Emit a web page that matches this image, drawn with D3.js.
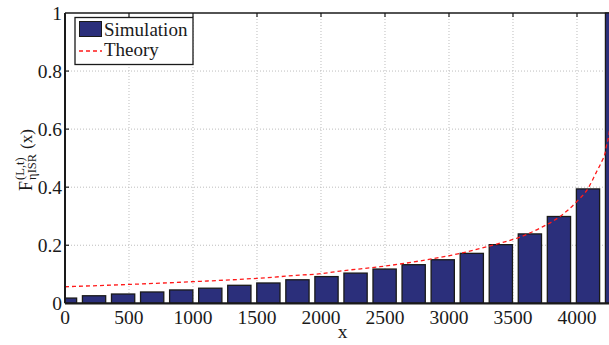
<!DOCTYPE html>
<html>
<head>
<meta charset="utf-8">
<script src="https://cdn.jsdelivr.net/npm/d3@7"></script>
<style>
  html, body { margin: 0; padding: 0; background: #fff; }
  svg { display: block; }
  text { font-family: "Liberation Serif", "DejaVu Serif", serif; fill: #1a1a1a; }
</style>
</head>
<body>
<div id="chart"></div>
<script>
// Bar positions (x) and simulated CDF heights
const barX = [0, 227, 454, 681, 908, 1135, 1362, 1589, 1816, 2043,
              2270, 2497, 2724, 2951, 3178, 3405, 3632, 3859, 4086, 4313];
const simulation = [0.018, 0.026, 0.032, 0.039, 0.046, 0.052, 0.062, 0.070, 0.081, 0.092,
                    0.104, 0.118, 0.133, 0.150, 0.172, 0.202, 0.239, 0.299, 0.394, 1.0];

// Theoretical CDF sampled along x
const theoryX = [0, 500, 1000, 1500, 1836, 2000, 2148, 2461, 2773, 3086,
                 3398, 3555, 3711, 3867, 3997, 4088, 4154, 4193, 4219, 4232, 4245, 4270];
const theoryY = [0.057, 0.065, 0.0745, 0.086, 0.097, 0.102, 0.111, 0.126, 0.146, 0.172,
                 0.207, 0.228, 0.259, 0.299, 0.350, 0.397, 0.454, 0.488, 0.517, 0.546, 0.569, 0.66];

const xTicks = [0, 500, 1000, 1500, 2000, 2500, 3000, 3500, 4000];
const yTicks = [0, 0.2, 0.4, 0.6, 0.8, 1];
const yTickLabels = ["0", "0.2", "0.4", "0.6", "0.8", "1"];
const legendLabels = ["Simulation", "Theory"];

const W = 609, H = 345;
const pLeft = 65, pTop = 13, pBottom = 303.3, pRight = 620;
const barColor = "#2b2f7b";

const svg = d3.select("#chart").append("svg").attr("width", W).attr("height", H);

const x = d3.scaleLinear().domain([0, 4336]).range([pLeft, pRight]);
const y = d3.scaleLinear().domain([0, 1]).range([pBottom, pTop]);

svg.append("defs").append("clipPath").attr("id", "plotClip")
  .append("rect").attr("x", pLeft).attr("y", pTop - 1)
  .attr("width", pRight - pLeft).attr("height", pBottom - pTop + 1);

// dotted grid
const grid = svg.append("g");
grid.selectAll("line.gx").data(xTicks.slice(1)).join("line")
  .attr("x1", d => x(d)).attr("x2", d => x(d)).attr("y1", pTop).attr("y2", pBottom)
  .attr("stroke", "#bdbdbd").attr("stroke-width", 1).attr("stroke-dasharray", "1,2");
grid.selectAll("line.gy").data(yTicks.slice(1, -1)).join("line")
  .attr("y1", d => y(d)).attr("y2", d => y(d)).attr("x1", pLeft).attr("x2", pRight)
  .attr("stroke", "#bdbdbd").attr("stroke-width", 1).attr("stroke-dasharray", "1,2");

// top border with inward ticks
svg.append("line").attr("x1", pLeft).attr("x2", pRight).attr("y1", pTop).attr("y2", pTop)
  .attr("stroke", "#1a1a1a").attr("stroke-width", 1.5);
svg.append("g").selectAll("line").data(xTicks.slice(1)).join("line")
  .attr("x1", d => x(d)).attr("x2", d => x(d)).attr("y1", pTop).attr("y2", pTop + 4)
  .attr("stroke", "#1a1a1a").attr("stroke-width", 1.2);

// bars
const barW = (x(227) - x(0)) * 0.8;
const plot = svg.append("g").attr("clip-path", "url(#plotClip)");
plot.selectAll("rect.bar").data(simulation).join("rect")
  .attr("class", "bar")
  .attr("x", (d, i) => x(barX[i]) - barW / 2)
  .attr("y", d => y(d))
  .attr("width", barW)
  .attr("height", d => y(0) - y(d))
  .attr("fill", barColor)
  .attr("stroke", "#1a1a1a")
  .attr("stroke-width", 1.3);

// theory curve
const line = d3.line().x(d => x(d[0])).y(d => y(d[1])).curve(d3.curveMonotoneX);
plot.append("path")
  .datum(theoryX.map((v, i) => [v, theoryY[i]]))
  .attr("d", line)
  .attr("fill", "none")
  .attr("stroke", "#ff1a1a")
  .attr("stroke-width", 1.3)
  .attr("stroke-dasharray", "4,3");

// left and bottom axes
svg.append("line").attr("x1", pLeft).attr("x2", pLeft).attr("y1", pTop).attr("y2", pBottom)
  .attr("stroke", "#1a1a1a").attr("stroke-width", 2);
svg.append("line").attr("x1", pLeft).attr("x2", pRight).attr("y1", pBottom).attr("y2", pBottom)
  .attr("stroke", "#1a1a1a").attr("stroke-width", 2.2);
svg.append("g").selectAll("line").data(yTicks.slice(1, -1)).join("line")
  .attr("x1", pLeft).attr("x2", pLeft + 4).attr("y1", d => y(d)).attr("y2", d => y(d))
  .attr("stroke", "#1a1a1a").attr("stroke-width", 1.2);

// tick labels
svg.append("g").selectAll("text").data(xTicks).join("text")
  .attr("x", d => x(d)).attr("y", 323.5)
  .attr("text-anchor", "middle").attr("font-size", 19.5)
  .text(d => d);
svg.append("g").selectAll("text").data(yTicks).join("text")
  .attr("x", 62).attr("y", d => y(d) + 6.5)
  .attr("text-anchor", "end").attr("font-size", 19.5)
  .text((d, i) => yTickLabels[i]);

// axis titles
svg.append("text").attr("x", pLeft + (pRight - pLeft) / 2).attr("y", 338)
  .attr("text-anchor", "middle").attr("font-size", 19.5).text("x");

// y title: F with stacked superscript (L,t) and subscript ηISR, then (x)
const yl = svg.append("g").attr("transform", "translate(32,160) rotate(-90)");
const fMain = yl.append("text").attr("y", 0).attr("font-size", 18).text("F");
const sup = yl.append("text").attr("y", -8).attr("font-size", 12.5).text("(L,t)");
const sub = yl.append("text").attr("y", 3.5).attr("font-size", 12.5).text("ηISR");
const arg = yl.append("text").attr("y", 0).attr("font-size", 17).text("(x)");
const fW = fMain.node().getComputedTextLength();
const scriptW = Math.max(sup.node().getComputedTextLength(), sub.node().getComputedTextLength());
const argW = arg.node().getComputedTextLength();
const gap = 5;
const startX = -(fW + 1 + scriptW + gap + argW) / 2;
fMain.attr("x", startX);
sup.attr("x", startX + fW + 1);
sub.attr("x", startX + fW + 1);
arg.attr("x", startX + fW + 1 + scriptW + gap);

// legend
const lg = svg.append("g");
lg.append("rect").attr("x", 75).attr("y", 17.5).attr("width", 118).attr("height", 47)
  .attr("fill", "#fff").attr("stroke", "#1a1a1a").attr("stroke-width", 1.3);
lg.append("rect").attr("x", 79.5).attr("y", 21.5).attr("width", 22).attr("height", 15)
  .attr("fill", barColor).attr("stroke", "#1a1a1a").attr("stroke-width", 1);
lg.append("line").attr("x1", 79).attr("x2", 102).attr("y1", 51).attr("y2", 51)
  .attr("stroke", "#ff1a1a").attr("stroke-width", 1.3).attr("stroke-dasharray", "4,3");
lg.selectAll("text").data(legendLabels).join("text")
  .attr("x", 104).attr("y", (d, i) => 35.5 + i * 20.5)
  .attr("font-size", 19).text(d => d);
</script>
</body>
</html>
